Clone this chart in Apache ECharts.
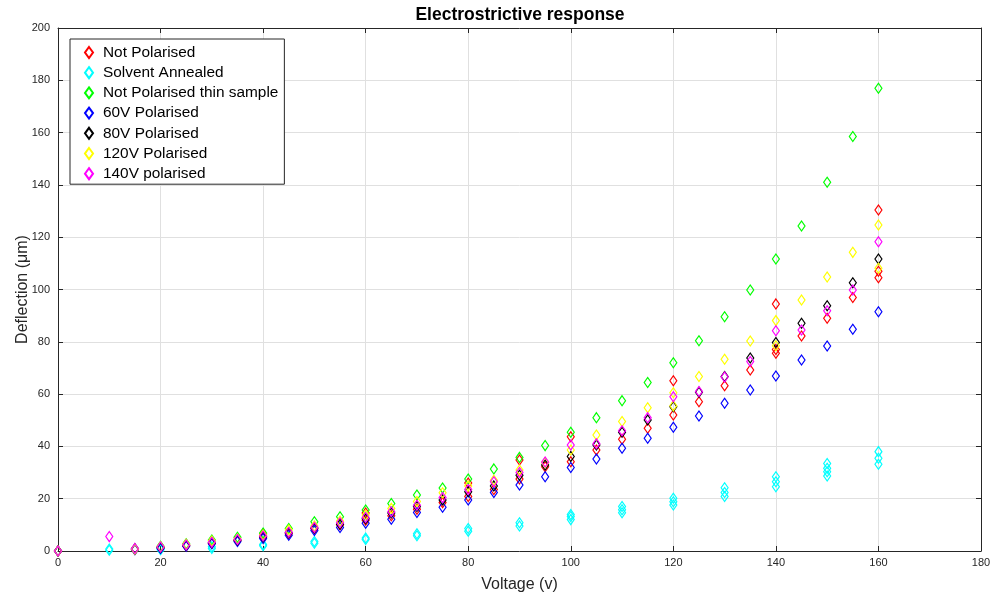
<!DOCTYPE html>
<html>
<head>
<meta charset="utf-8">
<title>Electrostrictive response</title>
<script src="https://cdn.jsdelivr.net/npm/echarts@6/dist/echarts.min.js"></script>
<style>
  html, body { margin: 0; padding: 0; background: #fff; }
  #chart { width: 994px; height: 599px; }
</style>
</head>
<body>
<div id="chart"></div>
<script>
// x ticks / y ticks
const xTicks = [0, 20, 40, 60, 80, 100, 120, 140, 160, 180];
const yTicks = [0, 20, 40, 60, 80, 100, 120, 140, 160, 180, 200];

// voltage steps (5 V) used by most runs
const volts = [15, 20, 25, 30, 35, 40, 45, 50, 55, 60, 65, 70, 75, 80, 85, 90, 95,
  100, 105, 110, 115, 120, 125, 130, 135, 140, 145, 150, 155, 160];

// Not Polarised (main run + repeat readings)
const redY = [0.7, 1.2, 2.0, 3.0, 4.0, 5.2, 6.6, 8.5, 10.0, 11.8, 13.5, 16.0, 18.5, 20.8, 23.5, 27.5, 32.2,
  34.1, 38.6, 42.7, 46.9, 52.0, 57.1, 63.2, 69.2, 75.6, 82.2, 89.0, 96.9, 104.5];
const redExtraX = [20, 40, 60, 80, 90, 100, 120, 140, 140, 160, 160];
const redExtraY = [1.5, 6.5, 14.5, 26.0, 34.8, 43.7, 65.1, 94.5, 77.1, 130.4, 107.0];

// Solvent Annealed (several readings per voltage)
const cyanX = [10, 10, 20, 20, 30, 30, 40, 40, 50, 50, 60, 60, 70, 70, 80, 80, 90, 90,
  100, 100, 100, 110, 110, 110, 120, 120, 120, 130, 130, 130, 140, 140, 140,
  150, 150, 150, 150, 160, 160, 160];
const cyanY = [0.3, 0.8, 0.5, 1.0, 1.0, 1.6, 2.0, 2.5, 3.0, 3.6, 4.4, 5.0, 5.8, 6.6, 7.6, 8.6, 9.6, 10.8,
  12.0, 13.2, 14.0, 14.6, 15.8, 17.0, 17.6, 18.8, 20.2, 20.8, 22.4, 24.2, 24.6, 26.5, 28.4,
  28.7, 30.3, 31.6, 33.5, 33.2, 35.5, 38.0];

// Not Polarised thin sample
const greenY = [0.9, 1.8, 2.8, 4.2, 5.3, 6.9, 8.6, 11.2, 13.1, 15.7, 18.2, 21.4, 24.1, 27.5, 31.4, 35.8, 40.3,
  45.4, 51.0, 57.5, 64.4, 72.0, 80.4, 89.6, 99.8, 111.7, 124.3, 141.0, 158.5, 177.0];

// 60V Polarised
const blueY = [0.5, 1.0, 1.8, 2.8, 3.6, 4.8, 6.0, 7.8, 9.0, 10.6, 12.1, 14.7, 16.7, 19.5, 22.4, 25.2, 28.4,
  31.9, 35.2, 39.3, 43.1, 47.3, 51.6, 56.5, 61.6, 66.9, 73.0, 78.4, 84.8, 91.5];

// 80V Polarised
const blackY = [0.8, 1.3, 2.2, 3.2, 4.2, 5.5, 7.0, 8.8, 10.2, 12.3, 14.5, 17.0, 19.5, 22.7, 24.9, 29.0, 32.9,
  36.1, 40.5, 45.4, 50.1, 55.2, 60.7, 66.7, 73.8, 79.7, 87.1, 93.8, 102.6, 111.7];

// 120V Polarised (+ repeat readings)
const yellowY = [0.7, 1.6, 2.6, 3.8, 4.6, 6.1, 8.0, 9.6, 11.5, 13.8, 16.3, 18.9, 22.3, 24.9, 27.1, 31.0, 33.8,
  38.6, 44.4, 49.5, 54.8, 60.5, 66.7, 73.3, 80.3, 88.1, 96.0, 104.8, 114.2, 124.7];
const yellowExtraX = [120, 140, 160];
const yellowExtraY = [55.5, 78.5, 108.1];

// 140V polarised
const magentaX = [0, 10].concat(volts);
const magentaY = [0, 5.5, 1.0, 1.5, 2.3, 3.3, 4.4, 5.7, 7.2, 9.0, 10.8, 12.8, 15.0, 17.5, 20.5, 23.5, 26.5, 30.0, 34.0,
  40.5, 41.0, 46.0, 51.0, 59.0, 61.0, 66.5, 72.5, 84.2, 84.5, 91.9, 99.8, 118.3];

const names = ['Not Polarised', 'Solvent Annealed', 'Not Polarised thin sample',
  '60V Polarised', '80V Polarised', '120V Polarised', '140V polarised'];
const colors = ['#ff0000', '#00ffff', '#00ff00', '#0000ff', '#000000', '#ffff00', '#ff00ff'];

function pairs(xs, ys) {
  return xs.map(function(x, i) { return [x, ys[i]]; });
}

const seriesData = [
  pairs([0].concat(volts, redExtraX), [0].concat(redY, redExtraY)),
  pairs(cyanX, cyanY),
  pairs([0].concat(volts), [0].concat(greenY)),
  pairs([0].concat(volts), [0].concat(blueY)),
  pairs([0].concat(volts), [0].concat(blackY)),
  pairs([0].concat(volts, yellowExtraX), [0].concat(yellowY, yellowExtraY)),
  pairs(magentaX, magentaY)
];

const font = 'Liberation Sans, Arial, Helvetica, sans-serif';
const axisColor = '#262626';

const chart = echarts.init(document.getElementById('chart'));

const boxAxis = {
  min: 0,
  axisLine: { show: true, onZero: false, lineStyle: { color: axisColor, width: 1 } },
  axisTick: { show: true, inside: true, length: 5, lineStyle: { color: axisColor } },
  axisLabel: { show: false },
  splitLine: { show: false }
};

const option = {
  backgroundColor: '#fff',
  animation: false,
  title: {
    text: 'Electrostrictive response',
    left: 515,
    textAlign: 'center',
    top: 1,
    textStyle: { fontFamily: font, fontSize: 17.5, fontWeight: 'bold', color: '#000' }
  },
  legend: {
    orient: 'vertical',
    left: 70,
    top: 39,
    padding: [6, 6, 3, 14],
    itemWidth: 8,
    itemHeight: 11,
    itemGap: 5.2,
    backgroundColor: '#fff',
    borderColor: axisColor,
    borderWidth: 1,
    borderRadius: 0,
    // push the label a few px away from the marker
    formatter: function(name) { return '{t|' + name + '}'; },
    textStyle: {
      fontFamily: font, fontSize: 15.4, color: '#000', lineHeight: 14,
      rich: { t: { fontFamily: font, fontSize: 15.4, color: '#000', lineHeight: 14, padding: [0, 0, 0, 5] } }
    },
    data: names
  },
  grid: { left: 58, right: 13, top: 28, bottom: 48, outerBoundsMode: 'none', containLabel: false },
  xAxis: [{
    type: 'value',
    min: 0, max: 180, interval: 20,
    name: 'Voltage (v)',
    nameLocation: 'middle',
    nameGap: 26,
    nameMoveOverlap: false,
    nameTextStyle: { fontFamily: font, fontSize: 16, color: axisColor },
    axisLine: { show: true, onZero: false, lineStyle: { color: axisColor, width: 1 } },
    axisTick: { show: true, inside: true, length: 5, lineStyle: { color: axisColor } },
    axisLabel: { fontFamily: font, fontSize: 11, color: axisColor, margin: 6 },
    splitLine: { show: true, lineStyle: { color: '#e0e0e0', width: 1 } }
  }, Object.assign({}, boxAxis, { type: 'value', position: 'top', max: 180, interval: 20 })],
  yAxis: [{
    type: 'value',
    min: 0, max: 200, interval: 20,
    name: 'Deflection (\u03bcm)',
    nameLocation: 'middle',
    nameGap: 27,
    nameMoveOverlap: false,
    nameTextStyle: { fontFamily: font, fontSize: 16, color: axisColor },
    axisLine: { show: true, onZero: false, lineStyle: { color: axisColor, width: 1 } },
    axisTick: { show: true, inside: true, length: 5, lineStyle: { color: axisColor } },
    axisLabel: { fontFamily: font, fontSize: 11, color: axisColor, margin: 8 },
    splitLine: { show: true, lineStyle: { color: '#e0e0e0', width: 1 } }
  }, Object.assign({}, boxAxis, { type: 'value', position: 'right', max: 200, interval: 20 })],
  series: names.map(function(name, i) {
    return {
      name: name,
      type: 'scatter',
      xAxisIndex: 0,
      yAxisIndex: 0,
      symbol: 'diamond',
      symbolSize: [7, 10],
      itemStyle: { color: 'rgba(0,0,0,0)', borderColor: colors[i], borderWidth: 1.2, opacity: 1 },
      emphasis: { disabled: true },
      data: seriesData[i],
      z: 2 + i
    };
  })
};

chart.setOption(option);
</script>
</body>
</html>
